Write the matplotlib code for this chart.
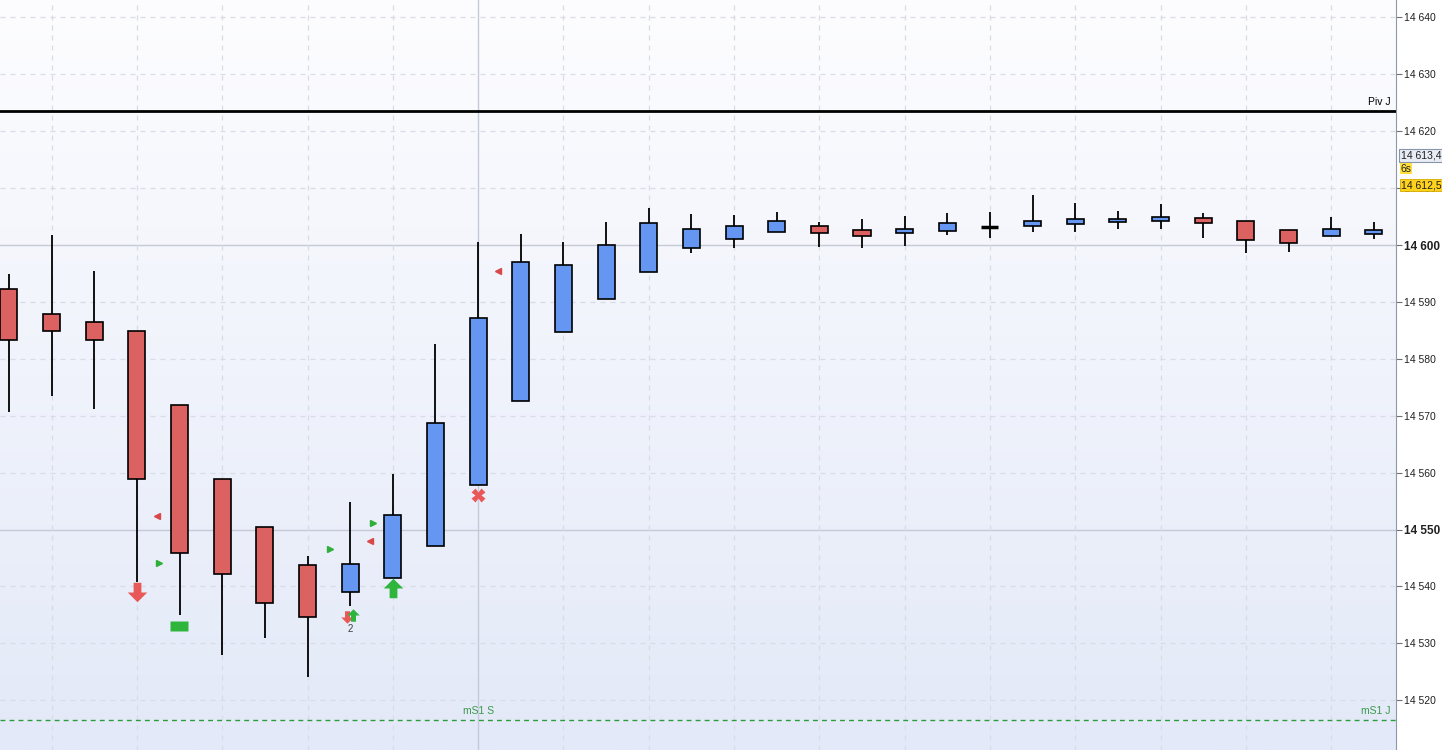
import matplotlib
matplotlib.use("Agg")
import numpy as np
import matplotlib.pyplot as plt
from matplotlib.path import Path
from matplotlib.colors import LinearSegmentedColormap
import matplotlib.transforms as mtrans

plt.rcParams['font.family'] = ['Liberation Sans', 'DejaVu Sans']

# candle data (index 0 = first visible bar)
opens = [14592.2, 14587.8, 14586.4, 14584.8, 14571.9, 14558.9, 14550.4, 14543.7,
         14539.1, 14541.5, 14547.1, 14557.9, 14572.5, 14584.7, 14590.5, 14595.3,
         14599.4, 14601.1, 14602.2, 14603.3, 14602.6, 14602.1, 14602.4, 14603.2,
         14603.3, 14603.7, 14604.1, 14604.3, 14604.7, 14604.3, 14602.6, 14601.6,
         14602.0]
closes = [14583.3, 14584.8, 14583.3, 14558.9, 14545.8, 14542.1, 14537.1, 14534.7,
          14543.9, 14552.5, 14568.7, 14587.1, 14597.0, 14596.4, 14600.0, 14603.8,
          14602.8, 14603.3, 14604.3, 14602.1, 14601.5, 14602.8, 14603.8, 14603.2,
          14604.2, 14604.5, 14604.6, 14604.9, 14603.9, 14600.9, 14600.3, 14602.8,
          14602.6]
highs = [14594.9, 14601.8, 14595.4, 14584.8, 14571.9, 14558.9, 14550.4, 14545.3,
         14554.8, 14559.8, 14582.6, 14600.5, 14601.9, 14600.5, 14604.0, 14606.5,
         14605.4, 14605.3, 14605.8, 14604.0, 14604.5, 14605.1, 14605.6, 14605.8,
         14608.8, 14607.4, 14605.9, 14607.2, 14605.7, 14604.3, 14602.6, 14604.9,
         14604.0]
lows = [14570.7, 14573.5, 14571.2, 14540.8, 14534.9, 14527.9, 14530.9, 14524.1,
        14536.6, 14541.5, 14547.1, 14557.9, 14572.5, 14584.7, 14590.5, 14595.3,
        14598.6, 14599.5, 14602.2, 14599.7, 14599.5, 14599.9, 14601.8, 14601.3,
        14602.3, 14602.3, 14602.9, 14602.9, 14601.3, 14598.6, 14598.8, 14601.6,
        14601.1]

# levels
piv_j = 14623.5
ms1 = 14516.5
last_price = 14612.5
other_price = 14613.4
yticks = [14520, 14530, 14540, 14550, 14560, 14570, 14580, 14590, 14600,
          14610, 14620, 14630, 14640]
bold_ticks = [14550, 14600]

# signal markers (bar index, price)
red_left = [(3.47, 14552.4), (8.46, 14548.0), (11.47, 14595.4)]
green_right = [(3.52, 14544.1), (7.53, 14546.6), (8.53, 14551.1)]
red_down = [(3.0, 14539.0)]
small_red_down = [(7.93, 14534.6)]
small_green_up = [(8.07, 14535.0)]
green_up = [(9.0, 14539.7)]
green_rect = [(3.99, 14533.0)]
red_cross = [(11.0, 14556.1)]
count_label = (8.0, 14532.6, "2")

RED = '#dc6262'
BLUE = '#6596f2'
GREEN = '#2fb53c'

fig = plt.figure(figsize=(14.42, 7.5), dpi=100)
ax = fig.add_axes([0, 0, 1396 / 1442, 1])

# background gradient
grad = np.linspace(0, 1, 256).reshape(-1, 1)
bg = LinearSegmentedColormap.from_list('bg', ['#e3e9f8', '#fdfdff'])
ax.imshow(grad, extent=[0, 1, 0, 1], transform=ax.transAxes, origin='lower',
          cmap=bg, aspect='auto', zorder=0)

n = len(opens)
x = np.arange(n)
ax.set_xlim(-0.21, 32.52)
ax.set_ylim(14511.25, 14643.06)

# grid
for yv in yticks:
    if yv in bold_ticks:
        ax.axhline(yv, color='#c6cad6', lw=1.0, zorder=1)
    else:
        ax.axhline(yv, color='#d8dce6', lw=0.9, ls=(0, (4, 4)), zorder=1)
for xv in range(1, n, 2):
    if xv == 11:
        ax.axvline(xv, color='#c4cada', lw=1.0, zorder=1)
    else:
        ax.axvline(xv, color='#d8dce6', lw=0.9, ls=(0, (4, 4)), zorder=1)

# levels
ax.axhline(piv_j, color='black', lw=2.0, zorder=2)
ax.text(32.4, piv_j + 0.8, "Piv J", fontsize=7.5, ha='right', va='bottom', zorder=5)
ax.axhline(ms1, color='#2e9a3e', lw=1.0, ls=(0, (3.5, 3)), zorder=2)
ax.text(11.0, ms1 + 0.8, "mS1 S", fontsize=7.5, color='#3a9a4a', ha='center', va='bottom')
ax.text(32.4, ms1 + 0.8, "mS1 J", fontsize=7.5, color='#3a9a4a', ha='right', va='bottom')

# candles
o = np.array(opens); c = np.array(closes)
cols = [BLUE if cc > oo else RED for oo, cc in zip(o, c)]
ax.vlines(x, lows, highs, color='black', lw=1.3, zorder=3)
body = np.abs(c - o)
doji = body < 0.05
ax.bar(x[~doji], body[~doji], bottom=np.minimum(o, c)[~doji], width=0.4,
       color=np.array(cols)[~doji], edgecolor='black', lw=1.2, zorder=4)
ax.hlines(o[doji], x[doji] - 0.2, x[doji] + 0.2, color='black', lw=2.5, zorder=4)

# signal markers
def arrow_path(up):
    s = 1 if up else -1
    v = [(-0.2, -0.5 * s), (0.2, -0.5 * s), (0.2, 0), (0.5, 0), (0, 0.5 * s),
         (-0.5, 0), (-0.2, 0), (-0.2, -0.5 * s)]
    return Path(v, closed=True)

def pts(lst):
    return [p[0] for p in lst], [p[1] for p in lst]

ax.plot(*pts(red_left), ls='none', marker='<', ms=5, color='#d84848', zorder=6)
ax.plot(*pts(green_right), ls='none', marker='>', ms=5, color='#2fae3a', zorder=6)
ax.plot(*pts(red_down), ls='none', marker=arrow_path(False), ms=14,
        color='#e85858', mec='none', zorder=6)
ax.plot(*pts(small_red_down), ls='none', marker=arrow_path(False), ms=9,
        color='#e85858', mec='none', zorder=6)
ax.plot(*pts(small_green_up), ls='none', marker=arrow_path(True), ms=9,
        color=GREEN, mec='none', zorder=6)
ax.plot(*pts(green_up), ls='none', marker=arrow_path(True), ms=14,
        color=GREEN, mec='none', zorder=6)
rect = Path([(-0.5, -0.25), (0.5, -0.25), (0.5, 0.25), (-0.5, 0.25), (-0.5, -0.25)], closed=True)
ax.plot(*pts(green_rect), ls='none', marker=rect, ms=13, color=GREEN, mec='none', zorder=6)
ax.plot(*pts(red_cross), ls='none', marker='X', ms=10, color='#e85858', mec='none', zorder=6)
ax.text(count_label[0], count_label[1], count_label[2], fontsize=7, color='#404040',
        ha='center', va='center', zorder=6)

# axes styling
for s in ['top', 'left', 'bottom']:
    ax.spines[s].set_visible(False)
ax.spines['right'].set_color('#9097a6')
ax.set_xticks([])
ax.yaxis.tick_right()
ax.set_yticks(yticks)
labels = [f"{v:,}".replace(',', ' ') for v in yticks]
ax.set_yticklabels(labels)
ax.tick_params(axis='y', length=4, width=0.8, color='#707070', pad=2,
               labelsize=7.5, labelcolor='#202020')
for lab, v in zip(ax.get_yticklabels(), yticks):
    if v in bold_ticks:
        lab.set_fontweight('bold')
        lab.set_fontsize(8.5)

# price boxes on the axis
def fmt(p):
    return f"{p:,.1f}".replace(',', ' ').replace('.', ',')

tr = mtrans.blended_transform_factory(ax.transAxes, ax.transData)
ax.text(1.0035, other_price + 2.3, fmt(other_price),
        transform=tr, fontsize=7.5, ha='left', va='center', color='#202020', zorder=10,
        clip_on=False,
        bbox=dict(boxstyle='square,pad=0.15', fc='#e8ecf5', ec='#8894aa', lw=0.8))
ax.text(1.0035, last_price + 0.9, "6s",
        transform=tr, fontsize=7.5, ha='left', va='center', color='#202020', zorder=11,
        clip_on=False,
        bbox=dict(boxstyle='square,pad=0.05', fc='#ffe040', ec='none'))
ax.text(1.0035, last_price - 2.0, fmt(last_price),
        transform=tr, fontsize=7.5, ha='left', va='center', color='#202020', zorder=10,
        clip_on=False,
        bbox=dict(boxstyle='square,pad=0.1', fc='#ffd21e', ec='#d4aa00', lw=0.6))

fig.patch.set_facecolor('white')
fig.savefig("out.png", dpi=100)
